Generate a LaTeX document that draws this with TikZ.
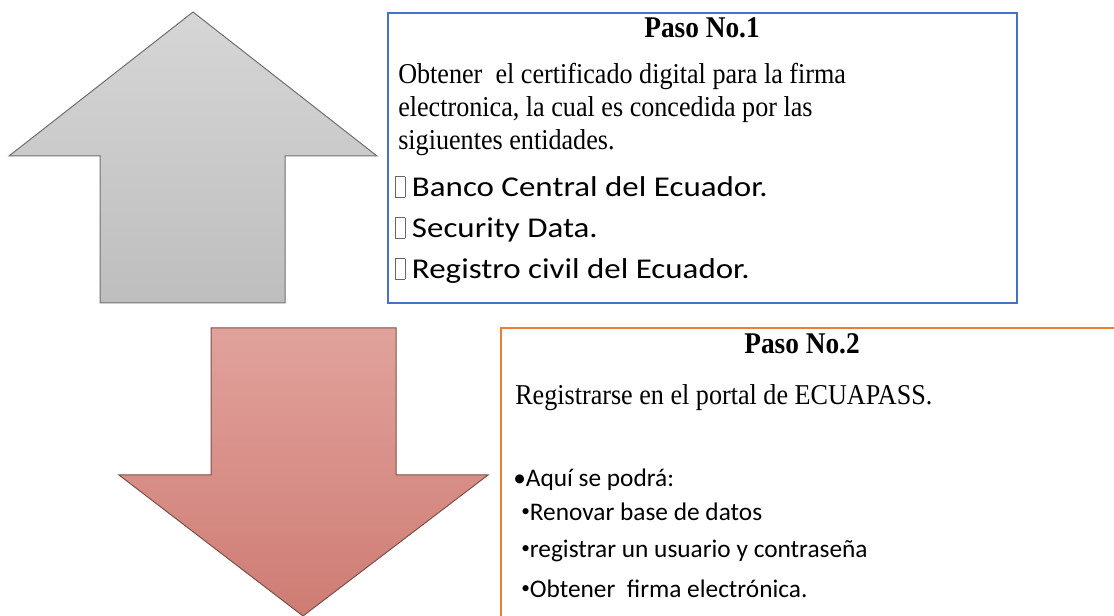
\documentclass[tikz,border=0pt]{standalone}
\usepackage{fontspec}
\setmainfont{Liberation Serif}
\newfontfamily\calibri{Carlito}
\definecolor{cajaazul}{RGB}{68,114,196}
\definecolor{cajanaranja}{RGB}{237,125,49}
\definecolor{grisarriba}{RGB}{214,214,214}
\definecolor{grisabajo}{RGB}{190,190,190}
\definecolor{rosaarriba}{RGB}{225,162,156}
\definecolor{rosaabajo}{RGB}{206,124,115}
\newcommand{\cajita}{{\setlength{\fboxsep}{0pt}\setlength{\fboxrule}{0.4pt}\color{black!60}\fbox{\rule{0pt}{0.7em}\hspace{0.27em}}}\hspace{0.2em}}
\newcommand{\puntito}{\raisebox{0.13em}{\fontsize{13}{13}\selectfont •}}
\newcommand{\alto}[1]{\scalebox{1}[1.1]{#1}}
\newcommand{\ancho}[1]{\scalebox{1.15}[1]{#1}}
\tikzset{
  serifa/.style={inner sep=0pt, font=\fontsize{19.6}{24}\selectfont},
  titulo/.style={inner sep=0pt, font=\fontsize{20.5}{24}\selectfont\bfseries},
  lista/.style={inner sep=0pt, font=\calibri\fontsize{19}{23}\selectfont},
  listagrande/.style={inner sep=0pt, font=\calibri\fontsize{21.5}{26}\selectfont}
}
\begin{document}
\begin{tikzpicture}[x=0.75pt,y=0.75pt,yscale=-1,xscale=1]
\useasboundingbox (0,0) rectangle (1114,616);

%Shape: Up Arrow
\draw [color={rgb, 255:red, 112; green, 112; blue, 112 }, line width=0.75, top color=grisarriba, bottom color=grisabajo] (193,12) -- (377,156) -- (285,156) -- (285,303) -- (100,303) -- (100,156) -- (9,156) -- cycle ;

%Shape: Down Arrow
\draw [color={rgb, 255:red, 125; green, 80; blue, 75 }, line width=0.75, top color=rosaarriba, bottom color=rosaabajo] (211,328) -- (396,328) -- (396,475) -- (488,475) -- (303,616) -- (119,475) -- (211,475) -- cycle ;

%Shape: Rectangle
\draw [color=cajaazul, line width=1.5] (388,13) -- (1017,13) -- (1017,303.5) -- (388,303.5) -- cycle ;

%Shape: Rectangle
\draw [color=cajanaranja, line width=1.5] (500.5,328.5) -- (1120,328.5) -- (1120,630) -- (500.5,630) -- cycle ;

% Text Node
\node [titulo, anchor=base] (paso1) at (702,38) {\alto{Paso No.1}};
% Text Node
\node [serifa, anchor=base west] (obtener) at (398,84) {\alto{Obtener\ \ el certificado digital para la firma}};
% Text Node
\node [serifa, anchor=base west] (electronica) at (398,117) {\alto{electronica, la cual es concedida por las}};
% Text Node
\node [serifa, anchor=base west] (sigiuentes) at (398,150) {\alto{sigiuentes entidades.}};
% Text Node
\node [listagrande, anchor=base west] (banco) at (395,197) {\ancho{\cajita Banco Central del Ecuador.}};
% Text Node
\node [listagrande, anchor=base west] (security) at (395,238) {\ancho{\cajita Security Data.}};
% Text Node
\node [listagrande, anchor=base west] (registro) at (395,279) {\ancho{\cajita Registro civil del Ecuador.}};

% Text Node
\node [titulo, anchor=base] (paso2) at (802,354) {\alto{Paso No.2}};
% Text Node
\node [serifa, anchor=base west] (registrarse) at (515,405) {\alto{Registrarse en el portal de ECUAPASS.}};
% Text Node
\node [lista, anchor=base west] (aqui) at (513,486) {•Aquí se podrá:};
% Text Node
\node [lista, anchor=base west] (renovar) at (521,520) {\puntito Renovar base de datos};
% Text Node
\node [lista, anchor=base west] (usuario) at (521,557) {\puntito registrar un usuario y contraseña};
% Text Node
\node [lista, anchor=base west] (firma) at (521,597) {\puntito Obtener\ \ firma electrónica.};

\end{tikzpicture}
\end{document}
